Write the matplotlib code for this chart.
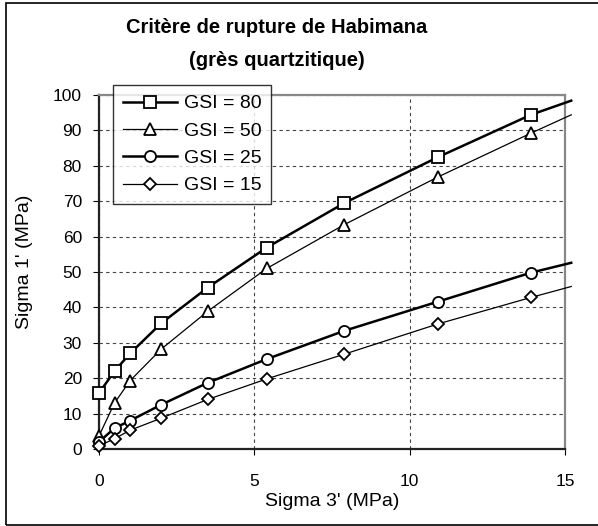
import matplotlib
matplotlib.use('Agg')
import matplotlib.pyplot as plt
from matplotlib.patches import Rectangle

plt.rcParams['font.family'] = ['Liberation Sans', 'DejaVu Sans']

# sigma 3' (MPa); last value is where the curves leave the frame (no marker)
sigma3 = [0, 0.5, 1, 2, 3.5, 5.4, 7.9, 10.9, 13.9, 15.2]
gsi80 = [15.8, 22.0, 27.0, 35.5, 45.6, 56.9, 69.5, 82.4, 94.4, 98.4]
gsi50 = [3.7, 13.0, 19.3, 28.2, 38.9, 51.0, 63.4, 76.8, 89.2, 94.4]
gsi25 = [2.0, 5.9, 8.0, 12.5, 18.7, 25.4, 33.4, 41.6, 49.8, 52.6]
gsi15 = [0.9, 2.9, 5.3, 8.7, 14.0, 19.8, 26.8, 35.3, 42.8, 45.9]
labels = ['GSI = 80', 'GSI = 50', 'GSI = 25', 'GSI = 15']

fig = plt.figure(figsize=(5.98, 5.26), dpi=100)
ax = fig.add_axes([99/598, 1 - 449/526, 466/598, 354/526])

styles = [('s', 8, 1.8), ('^', 9, 0.9), ('o', 8, 1.8), ('D', 6, 0.9)]
series = [gsi80, gsi50, gsi25, gsi15]
for ys, lab, (m, ms, lw) in zip(series, labels, styles):
    ax.plot(sigma3, ys, color='black', lw=lw, marker=m, ms=ms, mfc='white',
            mec='black', mew=1.3, markevery=list(range(9)), label=lab,
            clip_on=False, zorder=3)

ax.set_xlim(0, 15)
ax.set_ylim(0, 100)
ax.set_xticks([0, 5, 10, 15])
ax.set_yticks(range(0, 101, 10))
ax.grid(True, color='#444444', ls=(0, (3, 3)), lw=0.8)
ax.tick_params(axis='x', direction='out', length=4, pad=14, labelsize=12.5)
ax.tick_params(axis='y', direction='out', length=4.3, pad=8, labelsize=12.5)
for s in ['top', 'right']:
    ax.spines[s].set_color('#888888')
    ax.spines[s].set_linewidth(1.6)
for s in ['left', 'bottom']:
    ax.spines[s].set_color('#222222')
    ax.spines[s].set_linewidth(1.6)

ax.set_xlabel("Sigma 3' (MPa)", fontsize=14)
ax.set_ylabel("Sigma 1' (MPa)", fontsize=14)
ax.xaxis.set_label_coords(0.5, -0.124)
ax.yaxis.set_label_coords(-0.1416, 0.528)

fig.text(277/598, 1 - 33/526, 'Critère de rupture de Habimana', ha='center',
         va='baseline', fontsize=14.5, fontweight='bold')
fig.text(277/598, 1 - 66/526, '(grès quartzitique)', ha='center',
         va='baseline', fontsize=14.5, fontweight='bold')

leg = ax.legend(loc='upper left', bbox_to_anchor=(14/466, 1 + 10/354),
                fontsize=14, frameon=True, fancybox=False, edgecolor='black',
                handlelength=2.8, handletextpad=0.35, borderpad=0.5,
                labelspacing=0.5, borderaxespad=0)
leg.get_frame().set_linewidth(1.0)
leg.set_zorder(5)

fig.patches.append(Rectangle((6/598, 1/526), 0.995, 1 - 4/526,
                             transform=fig.transFigure, fill=False,
                             edgecolor='black', lw=1.2))

fig.savefig('out.png', dpi=100)
